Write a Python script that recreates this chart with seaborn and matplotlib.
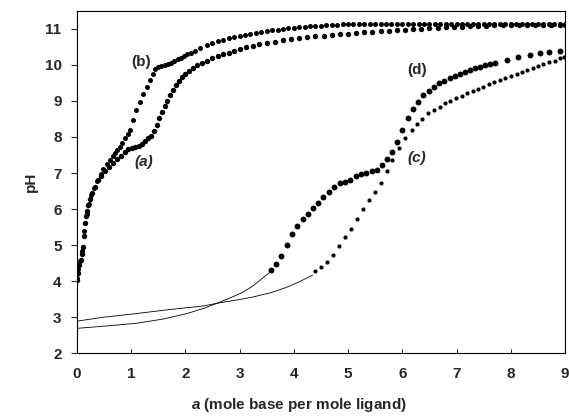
import matplotlib
matplotlib.use('Agg')
import matplotlib.pyplot as plt
import numpy as np
import pandas as pd
import seaborn as sns

# curve (a)
a_x = [0.0, 0.02, 0.04, 0.07, 0.09, 0.11, 0.13, 0.15, 0.17, 0.19, 0.21, 0.24, 0.28, 0.33, 0.39,
       0.45, 0.52, 0.6, 0.67, 0.74, 0.81, 0.88, 0.95, 1.02, 1.08, 1.14, 1.2, 1.26, 1.32, 1.37,
       1.42, 1.47, 1.52, 1.57, 1.62, 1.67, 1.72, 1.77, 1.82, 1.88, 1.94, 2.0, 2.07, 2.14, 2.22,
       2.3, 2.4, 2.5, 2.6, 2.7, 2.8, 2.9, 3.0, 3.12, 3.24, 3.36, 3.5, 3.65, 3.8, 3.95,
       4.1, 4.25, 4.4, 4.55, 4.7, 4.85, 5.0, 5.15, 5.3, 5.45, 5.6, 5.75, 5.9, 6.05, 6.2,
       6.35, 6.5, 6.65, 6.8, 6.95, 7.1, 7.25, 7.4, 7.55, 7.7, 7.85, 8.0, 8.15, 8.3, 8.45,
       8.6, 8.75, 8.9, 9.0]
a_ph = [4.03, 4.22, 4.45, 4.6, 4.75, 4.94, 5.25, 5.6, 5.8, 5.95, 6.12, 6.28, 6.44, 6.61, 6.8,
        6.93, 7.05, 7.18, 7.28, 7.38, 7.48, 7.58, 7.66, 7.7, 7.72, 7.76, 7.81, 7.88, 7.96, 8.04,
        8.18, 8.33, 8.52, 8.7, 8.85, 9.0, 9.16, 9.31, 9.43, 9.56, 9.66, 9.75, 9.84, 9.92, 10.0,
        10.06, 10.12, 10.18, 10.24, 10.29, 10.34, 10.39, 10.44, 10.49, 10.53, 10.57, 10.6, 10.64, 10.68, 10.71,
        10.74, 10.77, 10.79, 10.81, 10.83, 10.85, 10.87, 10.88, 10.9, 10.91, 10.93, 10.94, 10.96, 10.97, 10.99,
        11.0, 11.02, 11.03, 11.04, 11.05, 11.06, 11.07, 11.08, 11.09, 11.1, 11.1, 11.1, 11.11, 11.11, 11.11,
        11.11, 11.12, 11.12, 11.12]

# curve (b)
b_x = [0.0, 0.03, 0.06, 0.1, 0.14, 0.18, 0.22, 0.27, 0.32, 0.38, 0.44, 0.48, 0.55, 0.61, 0.66,
       0.7, 0.75, 0.79, 0.84, 0.89, 0.94, 0.98, 1.03, 1.1, 1.16, 1.22, 1.29, 1.35, 1.4, 1.45,
       1.5, 1.56, 1.62, 1.68, 1.74, 1.8, 1.86, 1.92, 1.98, 2.04, 2.1, 2.17, 2.27, 2.4, 2.5,
       2.6, 2.7, 2.8, 2.9, 3.0, 3.1, 3.2, 3.3, 3.4, 3.5, 3.6, 3.7, 3.8, 3.9, 4.0,
       4.1, 4.2, 4.3, 4.4, 4.5, 4.6, 4.7, 4.8, 4.9, 5.0, 5.1, 5.2, 5.3, 5.4, 5.5,
       5.6, 5.7, 5.8, 5.9, 6.0, 6.1, 6.2, 6.3, 6.4, 6.5, 6.6, 6.7, 6.8, 6.9, 7.0,
       7.1, 7.2, 7.3, 7.4, 7.5, 7.6, 7.7, 7.8, 7.9, 8.0, 8.1, 8.2, 8.3, 8.4, 8.5,
       8.6, 8.7, 8.8, 8.9, 9.0]
b_ph = [4.1, 4.35, 4.55, 4.85, 5.4, 5.85, 6.15, 6.38, 6.58, 6.78, 6.98, 7.1, 7.25, 7.36, 7.46,
        7.55, 7.64, 7.72, 7.84, 7.97, 8.08, 8.19, 8.47, 8.75, 8.97, 9.2, 9.39, 9.58, 9.76, 9.88,
        9.93, 9.96, 9.99, 10.02, 10.06, 10.11, 10.16, 10.2, 10.25, 10.29, 10.33, 10.38, 10.48, 10.55, 10.6,
        10.65, 10.7, 10.74, 10.78, 10.81, 10.83, 10.85, 10.88, 10.91, 10.94, 10.96, 10.98, 11.0, 11.02, 11.03,
        11.04, 11.06, 11.07, 11.08, 11.09, 11.1, 11.11, 11.12, 11.13, 11.13, 11.14, 11.14, 11.14, 11.14, 11.14,
        11.14, 11.14, 11.14, 11.14, 11.14, 11.14, 11.14, 11.14, 11.14, 11.14, 11.14, 11.14, 11.14, 11.14, 11.14,
        11.14, 11.14, 11.14, 11.14, 11.14, 11.13, 11.13, 11.13, 11.13, 11.13, 11.13, 11.13, 11.13, 11.13, 11.13,
        11.13, 11.13, 11.13, 11.13, 11.13]

# curve (c): thin line part, then dots
c_line_x = [0.0, 0.5, 1.1, 1.7, 2.33, 2.64, 3.0, 3.25, 3.6, 3.87, 4.1, 4.35]
c_line_ph = [2.89, 3.0, 3.1, 3.21, 3.31, 3.4, 3.49, 3.56, 3.69, 3.83, 3.98, 4.17]
c_x = [4.39, 4.5, 4.61, 4.72, 4.83, 4.94, 5.06, 5.17, 5.28, 5.39, 5.5, 5.61, 5.72, 5.81, 5.94,
       6.05, 6.18, 6.27, 6.37, 6.48, 6.59, 6.7, 6.79, 6.88, 6.99, 7.1, 7.2, 7.31, 7.4, 7.49,
       7.6, 7.69, 7.8, 7.9, 8.01, 8.12, 8.21, 8.3, 8.41, 8.51, 8.6, 8.71, 8.81, 8.91, 8.98]
c_ph = [4.28, 4.39, 4.53, 4.72, 4.97, 5.22, 5.44, 5.72, 6.0, 6.25, 6.47, 6.72, 7.06, 7.36, 7.69,
        7.97, 8.19, 8.36, 8.5, 8.67, 8.75, 8.83, 8.94, 9.0, 9.08, 9.14, 9.22, 9.28, 9.33, 9.39,
        9.47, 9.53, 9.58, 9.64, 9.69, 9.75, 9.81, 9.87, 9.92, 9.97, 10.02, 10.07, 10.12, 10.18, 10.22]

# curve (d): thin line part, then dots
d_line_x = [0.0, 0.5, 1.1, 1.6, 2.03, 2.35, 2.64, 2.85, 3.06, 3.25, 3.38, 3.56]
d_line_ph = [2.69, 2.75, 2.83, 2.95, 3.1, 3.25, 3.42, 3.55, 3.69, 3.87, 4.03, 4.25]
d_x = [3.58, 3.67, 3.76, 3.87, 3.96, 4.06, 4.17, 4.26, 4.35, 4.45, 4.54, 4.65, 4.74, 4.85, 4.94,
       5.04, 5.15, 5.24, 5.33, 5.44, 5.53, 5.63, 5.72, 5.81, 5.9, 6.0, 6.1, 6.2, 6.29, 6.38,
       6.49, 6.59, 6.68, 6.77, 6.88, 6.97, 7.07, 7.16, 7.25, 7.34, 7.44, 7.53, 7.62, 7.71, 7.93,
       8.14, 8.36, 8.54, 8.71, 8.91]
d_ph = [4.3, 4.47, 4.69, 5.0, 5.31, 5.53, 5.72, 5.86, 6.03, 6.17, 6.33, 6.47, 6.61, 6.72, 6.75,
        6.8, 6.92, 6.97, 7.0, 7.05, 7.08, 7.22, 7.4, 7.58, 7.86, 8.19, 8.53, 8.78, 8.97, 9.17,
        9.28, 9.39, 9.5, 9.56, 9.64, 9.69, 9.75, 9.81, 9.86, 9.92, 9.94, 10.0, 10.03, 10.06, 10.15,
        10.22, 10.28, 10.33, 10.36, 10.4]

x_ticks = [0, 1, 2, 3, 4, 5, 6, 7, 8, 9]
y_ticks = [2, 3, 4, 5, 6, 7, 8, 9, 10, 11]

sns.set_style('ticks')
plt.rcParams['font.family'] = ['Liberation Sans', 'DejaVu Sans']
plt.rcParams['mathtext.fontset'] = 'custom'
plt.rcParams['mathtext.bfit'] = 'Liberation Sans:bold:italic'

fig = plt.figure(figsize=(5.69, 4.18), dpi=100)
ax = fig.add_axes([0.135, 0.155, 0.858, 0.819])

sns.lineplot(x=c_line_x, y=c_line_ph, sort=False, color='black', lw=0.6, ax=ax)
sns.lineplot(x=d_line_x, y=d_line_ph, sort=False, color='black', lw=0.6, ax=ax)
sns.scatterplot(x=a_x, y=a_ph, color='black', s=15, linewidth=0, ax=ax)
sns.scatterplot(x=b_x, y=b_ph, color='black', s=13, linewidth=0, ax=ax)
sns.scatterplot(x=c_x, y=c_ph, color='black', s=9, linewidth=0, ax=ax)
sns.scatterplot(x=d_x, y=d_ph, color='black', s=18, linewidth=0, ax=ax)

fs = 11
ax.text(1.18, 10.08, '(b)', fontsize=fs, fontweight='bold', ha='center', va='center')
ax.text(1.24, 7.3, '(a)', fontsize=fs, fontweight='bold', style='italic', ha='center', va='center')
ax.text(6.28, 9.86, '(d)', fontsize=fs, fontweight='bold', ha='center', va='center')
ax.text(6.27, 7.42, '(c)', fontsize=fs, fontweight='bold', style='italic', ha='center', va='center')

ax.set_xlim(0, 9)
ax.set_ylim(2, 11.5)
ax.set_xticks(x_ticks)
ax.set_yticks(y_ticks)
ax.tick_params(axis='x', direction='in', length=3, width=0.8, pad=10, labelsize=fs)
ax.tick_params(axis='y', direction='out', length=4, width=0.8, pad=7, labelsize=fs)
for lab in ax.get_xticklabels() + ax.get_yticklabels():
    lab.set_fontweight('bold')
for sp in ax.spines.values():
    sp.set_visible(True)
    sp.set_color('black')
    sp.set_linewidth(0.8)

ax.set_xlabel(r'$\mathbfit{a}$ (mole base per mole ligand)', fontsize=fs, fontweight='bold', labelpad=9)
ax.xaxis.set_label_coords(0.455, -0.125)
ax.set_ylabel('pH', fontsize=fs, fontweight='bold', labelpad=5)

fig.savefig('out.png', dpi=100)
